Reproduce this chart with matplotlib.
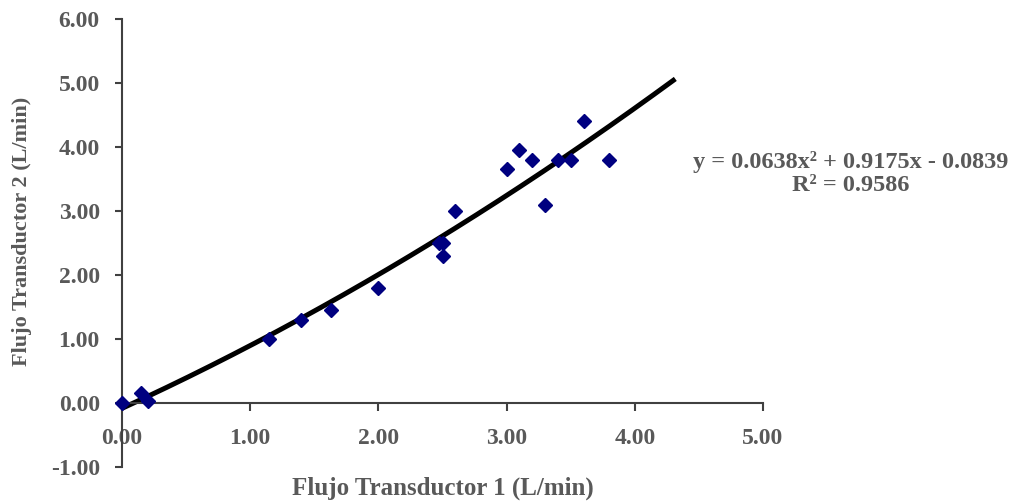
import matplotlib
matplotlib.use("Agg")
import matplotlib.pyplot as plt
import numpy as np

# datos
flujo_t1 = [0.00, 0.15, 0.20, 1.15, 1.40, 1.63, 2.00, 2.47, 2.50, 2.50, 2.60,
            3.00, 3.10, 3.20, 3.30, 3.40, 3.50, 3.60, 3.80]
flujo_t2 = [0.00, 0.15, 0.03, 1.00, 1.30, 1.45, 1.80, 2.50, 2.50, 2.30, 3.00,
            3.65, 3.95, 3.80, 3.10, 3.80, 3.80, 4.40, 3.80]

# linea de tendencia polinomica (orden 2)
coef = [0.0638, 0.9175, -0.0839]
r2 = 0.9586
x_fin = 4.3

xticks = [0, 1, 2, 3, 4, 5]
yticks = [-1, 0, 1, 2, 3, 4, 5, 6]

gris = "#595959"
plt.rcParams['font.family'] = ['Liberation Serif', 'DejaVu Serif']
plt.rcParams['font.weight'] = 'bold'

fig = plt.figure(figsize=(10.19, 5.03), dpi=100)
ax = fig.add_axes([0.1197, 0.0716, 0.6291, 0.8906])

xs = np.linspace(0, x_fin, 200)
ax.plot(xs, np.polyval(coef, xs), color="black", lw=3.6, zorder=2)
ax.plot(flujo_t1, flujo_t2, "D", color="#000080", markersize=7.5, zorder=3,
        clip_on=False)

ax.set_xlim(0, 5)
ax.set_ylim(-1, 6)
ax.spines['right'].set_visible(False)
ax.spines['top'].set_visible(False)
ax.spines['bottom'].set_position(('data', 0))
for s in ['left', 'bottom']:
    ax.spines[s].set_color("#404040")
    ax.spines[s].set_linewidth(1.5)

ax.set_xticks(xticks)
ax.set_yticks(yticks)
ax.set_xticklabels([f"{v:.2f}" for v in xticks])
ax.set_yticklabels([f"{v:.2f}" for v in yticks])
ax.tick_params(axis='x', direction='out', length=6, width=1.5, color="#404040",
               pad=12, labelsize=17, labelcolor=gris)
ax.tick_params(axis='y', direction='out', length=5, width=1.5, color="#404040",
               pad=11, labelsize=17, labelcolor=gris)
for lab in ax.get_xticklabels() + ax.get_yticklabels():
    lab.set_fontweight('bold')

fig.text(0.4343, 0.03, "Flujo Transductor 1 (L/min)", ha="center", va="center",
         fontsize=18, fontweight="bold", color=gris)
fig.text(0.022, 0.54, "Flujo Transductor 2 (L/min)", ha="center", va="center",
         rotation=90, fontsize=16, fontweight="bold", color=gris)

ecuacion = (f"y = {coef[0]:.4f}x² + {coef[1]:.4f}x - {abs(coef[2]):.4f}\n"
            f"R² = {r2:.4f}")
fig.text(0.835, 0.655, ecuacion, ha="center", va="center", fontsize=17.5,
         fontweight="bold", color=gris, linespacing=1.15)

fig.savefig("out.png", dpi=100)
